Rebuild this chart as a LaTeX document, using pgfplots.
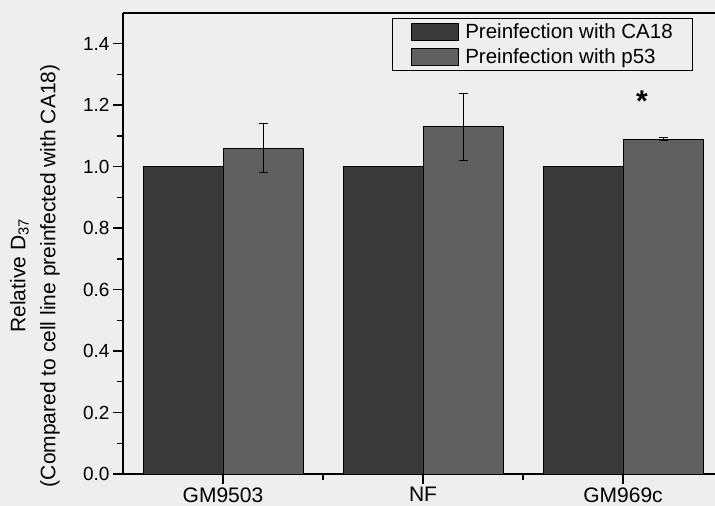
\documentclass[border=0pt]{standalone}
\usepackage{fontspec}
\setmainfont{Liberation Sans}
\usepackage{pgfplots}
\pgfplotsset{compat=1.18}
\definecolor{bg}{HTML}{EEEEEE}
\definecolor{caA}{HTML}{3A3A3A}
\definecolor{pB}{HTML}{606060}
\begin{document}
\begin{tikzpicture}
\useasboundingbox (0pt,0pt) rectangle (715pt,506pt);
\fill[bg] (0pt,0pt) rectangle (715pt,506pt);
\begin{axis}[
  at={(123pt,32pt)}, anchor=south west,
  scale only axis, width=592pt, height=461pt,
  xmin=0.5, xmax=3.46, ymin=0, ymax=1.5,
  axis x line=box, axis y line=left,
  axis line style={-, line width=1.6pt, black},
  y axis line style={-},
  tick pos=left, tick align=outside,
  xtick={1,2,3}, xticklabels={GM9503,NF,GM969c},
  minor xtick={1.5,2.5},
  ytick={0,0.2,0.4,0.6,0.8,1.0,1.2,1.4},
  minor ytick={0.1,0.3,0.5,0.7,0.9,1.1,1.3},
  major tick length=10pt, minor tick length=6pt,
  every tick/.style={black, line width=1.4pt},
  /pgf/number format/assume math mode=true,
  yticklabel style={font=\fontsize{19}{19}\selectfont, /pgf/number format/.cd, fixed, fixed zerofill, precision=1},
  xticklabel style={font=\fontsize{21}{21}\selectfont},
  ylabel={Relative D\textsubscript{37}\\(Compared to cell line preinfected with CA18)},
  ylabel style={align=center, font=\fontsize{21}{30}\selectfont, at={(axis description cs:-0.1486,0.43)}, anchor=center},
  legend style={at={(rel axis cs:0.963,0.989)}, anchor=north east, draw=black, line width=0.8pt, fill=bg,
    font=\fontsize{20.5}{20.5}\selectfont, inner xsep=18pt, inner ysep=3pt, row sep=5pt,
    /tikz/every odd column/.append style={column sep=5pt}},
  legend cell align=left,
  legend image code/.code={\draw[#1, draw=black, line width=0.6pt] (0pt,-8.5pt) rectangle (47pt,8.5pt);},
]
\addplot[ybar, bar width=80pt, fill=caA, draw=black, line width=0.6pt]
  coordinates {(0.8,1.0) (1.8,1.0) (2.8,1.0)};
\addlegendentry{Preinfection with CA18}
\addplot[ybar, bar width=80pt, fill=pB, draw=black, line width=0.6pt,
  error bars/.cd, y dir=both, y explicit,
  error bar style={black, line width=0.8pt},
  error mark options={rotate=90, mark size=4.5pt, black, line width=0.8pt}]
  coordinates {(1.2,1.06) +- (0,0.08) (2.2,1.13) +- (0,0.11) (3.2,1.09) +- (0,0.004)};
\addlegendentry{Preinfection with p53}
\node[font=\fontsize{30}{30}\selectfont\bfseries] at (axis cs:3.095,1.214) {*};
\end{axis}
\end{tikzpicture}
\end{document}
